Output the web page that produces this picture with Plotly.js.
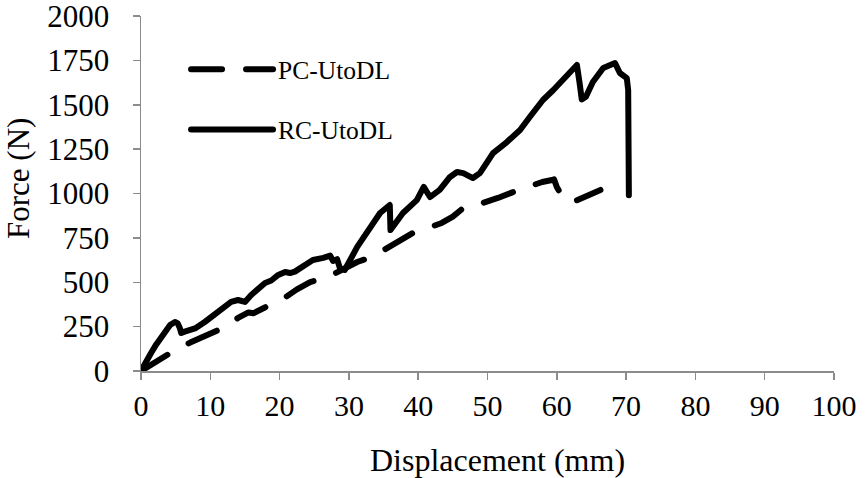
<!DOCTYPE html>
<html>
<head>
<meta charset="utf-8">
<script src="https://cdn.plot.ly/plotly-3.0.1.min.js"></script>
<style>html,body{margin:0;padding:0;background:#fff;}#chart{width:865px;height:478px;}</style>
</head>
<body>
<div id="chart"></div>
<script>
// PC-UtoDL (dashed)
const pcX = [0, 2, 4.6, 7.1, 9, 11.5, 14, 15.5, 16.2, 18.6, 20.9, 22.5, 24.4, 27, 29.1, 31.2, 33.3, 35, 36.9, 39.2, 41, 43.4, 45, 46.5, 48, 49.4, 51.5, 53.5, 55.7, 57.9, 59.3, 59.6, 60, 60.5, 61, 61.5, 62.3, 63.5, 65, 66.3];
const pcY = [0, 50, 110, 160, 195, 237, 299, 330, 325, 372, 417, 460, 501, 530, 569, 614, 642, 680, 721, 777, 800, 834, 870, 918, 930, 946, 975, 1005, 1037, 1065, 1076, 1080, 1037, 1003, 990, 960, 952, 975, 995, 1020];
// RC-UtoDL (solid)
const rcX = [0, 0.6, 1.45, 2.2, 2.9, 3.6, 4.2, 4.9, 5.3, 5.6, 5.8, 6.3, 6.8, 7.9, 9.2, 10.2, 11.1, 12, 13, 14, 15, 15.9, 17, 17.9, 18.8, 19.8, 20.8, 21.5, 22.2, 23.4, 24.8, 26.3, 27.3, 27.7, 28.3, 28.7, 29.4, 31.2, 33, 34.5, 35.9, 36, 37.8, 39.8, 40.8, 41.7, 43.1, 44.5, 45.6, 46.5, 47.9, 48.9, 50, 50.8, 52.8, 54.7, 56.1, 58, 59.5, 60.5, 61.5, 62.3, 62.9, 63.3, 63.6, 64.2, 65.2, 66.7, 67.7, 68.4, 69.1, 70.1, 70.3, 70.4, 70.4];
const rcY = [0, 50, 101, 150, 192, 228, 259, 276, 268, 242, 214, 222, 231, 242, 276, 305, 332, 355, 389, 400, 389, 428, 460, 496, 510, 541, 558, 552, 560, 586, 625, 637, 650, 620, 630, 580, 569, 699, 811, 890, 935, 794, 890, 963, 1037, 980, 1020, 1090, 1121, 1115, 1087, 1115, 1180, 1228, 1290, 1358, 1431, 1527, 1583, 1625, 1665, 1690, 1724, 1620, 1530, 1545, 1628, 1707, 1724, 1735, 1679, 1650, 1583, 1245, 990];
const xTicks = [0, 10, 20, 30, 40, 50, 60, 70, 80, 90, 100];
const yTicks = [0, 250, 500, 750, 1000, 1250, 1500, 1750, 2000];
const xTitle = 'Displacement (mm)';
const yTitle = 'Force (N)';

const FONT = 'Liberation Serif, Times New Roman, serif';

const traces = [
  {x: pcX, y: pcY, type: 'scatter', mode: 'lines', name: 'PC-UtoDL', legendgroup: 'a',
   line: {color: '#000', width: 6, dash: '31px,24px'}},
  {x: rcX, y: rcY, type: 'scatter', mode: 'lines', name: 'RC-UtoDL', legendgroup: 'b',
   line: {color: '#000', width: 6}}
];

const layout = {
  width: 865, height: 478,
  margin: {l: 141, r: 31, t: 16, b: 107},
  paper_bgcolor: '#fff', plot_bgcolor: '#fff',
  font: {family: FONT, color: '#000', size: 30},
  showlegend: true,
  legend: {x: 0.065, y: 0.915, xanchor: 'left', yanchor: 'top', bgcolor: 'rgba(0,0,0,0)',
           font: {family: FONT, size: 25.5, color: '#000'}, itemwidth: 82, tracegroupgap: 24},
  xaxis: {range: [0, 100], tickvals: xTicks, ticktext: xTicks.map(String),
          showgrid: false, zeroline: false, showline: true, linecolor: '#8c8c8c', linewidth: 1.5,
          ticks: 'outside', ticklen: 7, tickcolor: '#8c8c8c', tickwidth: 1.5,
          ticklabeloverflow: 'allow',
          tickfont: {family: FONT, size: 30, color: '#000'}},
  yaxis: {range: [0, 2000], tickvals: yTicks, ticktext: yTicks.map(String),
          showgrid: false, zeroline: false, showline: true, linecolor: '#8c8c8c', linewidth: 1.5,
          ticks: 'outside', ticklen: 7, tickcolor: '#8c8c8c', tickwidth: 1.5, ticklabelstandoff: 17,
          ticklabeloverflow: 'allow',
          tickfont: {family: FONT, size: 31, color: '#000'}},
  annotations: [
    {text: xTitle, xref: 'paper', yref: 'paper', x: 0.5, y: -0.2507, xshift: 10,
     xanchor: 'center', yanchor: 'middle', showarrow: false,
     font: {family: FONT, size: 32, color: '#000'}},
    {text: yTitle, xref: 'paper', yref: 'paper', x: -0.176, y: 0.541, textangle: -90,
     xanchor: 'center', yanchor: 'middle', showarrow: false,
     font: {family: FONT, size: 31, color: '#000'}}
  ]
};

Plotly.newPlot('chart', traces, layout, {displayModeBar: false, staticPlot: true}).then(function () {
  document.querySelectorAll('#chart path.js-line, #chart .legend path').forEach(function (p) {
    p.style.strokeLinecap = 'round';
    p.style.strokeLinejoin = 'round';
  });
});
</script>
</body>
</html>
